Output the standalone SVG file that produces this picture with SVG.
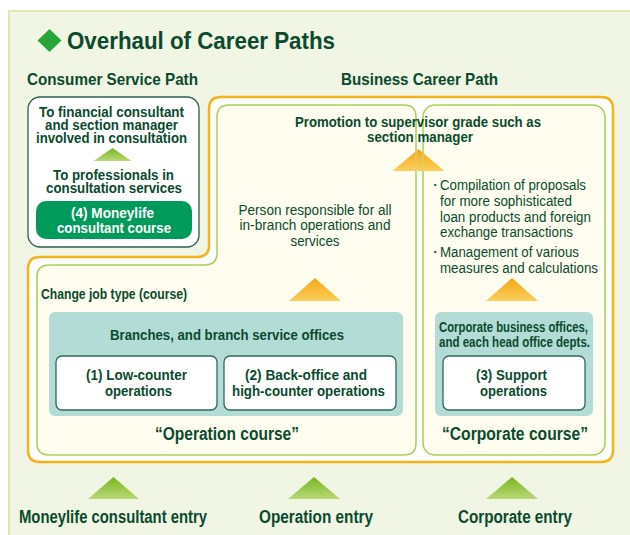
<svg xmlns="http://www.w3.org/2000/svg" width="630" height="535" viewBox="0 0 630 535">
  <defs>
    <linearGradient id="gradOrange" x1="0" y1="0" x2="0" y2="1">
      <stop offset="0" stop-color="#f5a617"/>
      <stop offset="1" stop-color="#fbcf5a"/>
    </linearGradient>
    <linearGradient id="gradGreen" x1="0" y1="0" x2="0" y2="1">
      <stop offset="0" stop-color="#78b51f"/>
      <stop offset="1" stop-color="#b9d977"/>
    </linearGradient>
  </defs>
  <style>
    text { font-family: "Liberation Sans", Arial, sans-serif; fill: #0b4a2e; }
    .b { font-weight: bold; }
    .r { font-weight: normal; }
    .c { text-anchor: middle; }
    .w { fill: #ffffff; }
    .cream { fill: #fefdef; stroke: #a8cf55; stroke-width: 1.5; }
    .teal { fill: #b2dcd5; }
    .card { fill: #ffffff; stroke: #2f6a55; stroke-width: 1.3; }
    .upO { fill: url(#gradOrange); }
    .upG { fill: url(#gradGreen); }
  </style>

  <!-- page panel -->
  <rect x="0" y="0" width="630" height="535" fill="#ffffff"/>
  <rect x="9" y="11" width="625" height="530" fill="#f0f5e4" stroke="#dbe8b3" stroke-width="2"/>

  <!-- title -->
  <g id="title">
    <polygon points="49.5,29 61.5,40.5 49.5,52 37.5,40.5" fill="#27a538"/>
    <text class="b" x="67" y="49" font-size="23" textLength="268" lengthAdjust="spacingAndGlyphs">Overhaul of Career Paths</text>
  </g>

  <text class="b" x="27" y="85" font-size="17" textLength="171" lengthAdjust="spacingAndGlyphs">Consumer Service Path</text>
  <text class="b" x="341" y="85" font-size="17" textLength="157" lengthAdjust="spacingAndGlyphs">Business Career Path</text>

  <!-- business career path frame -->
  <g id="business-path">
    <path d="M 40 257 L 197 257 Q 209 257 209 245 L 209 109 Q 209 97 221 97 L 601 97 Q 613 97 613 109 L 613 450 Q 613 462 601 462 L 40 462 Q 28 462 28 450 L 28 269 Q 28 257 40 257 Z" fill="#ffffff" stroke="#f5b21b" stroke-width="2.5"/>
  </g>

  <!-- operation course area -->
  <g id="operation-course">
    <path class="cream" d="M 49 265 L 205 265 Q 217 265 217 253 L 217 117 Q 217 105 229 105 L 404 105 Q 416 105 416 117 L 416 443 Q 416 455 404 455 L 49 455 Q 37 455 37 443 L 37 277 Q 37 265 49 265 Z"/>
    <text class="r c" x="315" y="215" font-size="14" textLength="153" lengthAdjust="spacingAndGlyphs">Person responsible for all</text>
    <text class="r c" x="315" y="230" font-size="14" textLength="151" lengthAdjust="spacingAndGlyphs">in-branch operations and</text>
    <text class="r c" x="315" y="246" font-size="14" textLength="49" lengthAdjust="spacingAndGlyphs">services</text>
    <text class="b" x="41" y="299" font-size="14" textLength="146" lengthAdjust="spacingAndGlyphs">Change job type (course)</text>
    <rect class="teal" x="49" y="312" width="354" height="104" rx="6"/>
    <text class="b c" x="227" y="340" font-size="15" textLength="234" lengthAdjust="spacingAndGlyphs">Branches, and branch service offices</text>
    <text class="b c" x="227" y="440" font-size="18" textLength="144" lengthAdjust="spacingAndGlyphs">“Operation course”</text>
  </g>

  <g id="low-counter">
    <rect class="card" x="56" y="356" width="161" height="54" rx="6"/>
    <text class="b c" x="136.5" y="380" font-size="15" textLength="101" lengthAdjust="spacingAndGlyphs">(1) Low-counter</text>
    <text class="b c" x="138.5" y="396" font-size="15" textLength="67" lengthAdjust="spacingAndGlyphs">operations</text>
  </g>

  <g id="back-office">
    <rect class="card" x="224" y="356" width="172" height="54" rx="6"/>
    <text class="b c" x="306" y="380" font-size="15" textLength="122" lengthAdjust="spacingAndGlyphs">(2) Back-office and</text>
    <text class="b c" x="308.5" y="396" font-size="15" textLength="153" lengthAdjust="spacingAndGlyphs">high-counter operations</text>
  </g>

  <!-- corporate course area -->
  <g id="corporate-course">
    <rect class="cream" x="423" y="105" width="182" height="350" rx="12"/>
    <text class="r" x="428" y="190" font-size="14" font-family="'Noto Sans CJK JP', sans-serif">・</text>
    <text class="r" x="440" y="190" font-size="14" textLength="146" lengthAdjust="spacingAndGlyphs">Compilation of proposals</text>
    <text class="r" x="440" y="206" font-size="14" textLength="132" lengthAdjust="spacingAndGlyphs">for more sophisticated</text>
    <text class="r" x="440" y="222" font-size="14" textLength="151" lengthAdjust="spacingAndGlyphs">loan products and foreign</text>
    <text class="r" x="440" y="237" font-size="14" textLength="133" lengthAdjust="spacingAndGlyphs">exchange transactions</text>
    <text class="r" x="428" y="257" font-size="14" font-family="'Noto Sans CJK JP', sans-serif">・</text>
    <text class="r" x="440" y="257" font-size="14" textLength="139" lengthAdjust="spacingAndGlyphs">Management of various</text>
    <text class="r" x="440" y="273" font-size="14" textLength="158" lengthAdjust="spacingAndGlyphs">measures and calculations</text>
    <rect class="teal" x="435" y="312" width="158" height="104" rx="6"/>
    <text class="b c" x="513.5" y="332" font-size="14" textLength="149" lengthAdjust="spacingAndGlyphs">Corporate business offices,</text>
    <text class="b c" x="514.5" y="347" font-size="14" textLength="151" lengthAdjust="spacingAndGlyphs">and each head office depts.</text>
    <text class="b c" x="515" y="440" font-size="18" textLength="146" lengthAdjust="spacingAndGlyphs">“Corporate course”</text>
  </g>

  <g id="support">
    <rect class="card" x="443" y="356" width="142" height="54" rx="6"/>
    <text class="b c" x="511.5" y="380" font-size="15" textLength="71" lengthAdjust="spacingAndGlyphs">(3) Support</text>
    <text class="b c" x="513.5" y="396" font-size="15" textLength="67" lengthAdjust="spacingAndGlyphs">operations</text>
  </g>

  <!-- consumer service path -->
  <g id="consumer-path">
    <rect x="28" y="97" width="171" height="150" rx="12" fill="#ffffff" stroke="#2c5f4c" stroke-width="1.3"/>
    <text class="b c" x="111.5" y="117" font-size="14" textLength="145" lengthAdjust="spacingAndGlyphs">To financial consultant</text>
    <text class="b c" x="111.5" y="130" font-size="14" textLength="133" lengthAdjust="spacingAndGlyphs">and section manager</text>
    <text class="b c" x="111.5" y="143" font-size="14" textLength="151" lengthAdjust="spacingAndGlyphs">involved in consultation</text>
    <text class="b c" x="113.5" y="180" font-size="14" textLength="121" lengthAdjust="spacingAndGlyphs">To professionals in</text>
    <text class="b c" x="114" y="193" font-size="14" textLength="136" lengthAdjust="spacingAndGlyphs">consultation services</text>
  </g>

  <g id="moneylife-course">
    <rect x="36" y="201" width="156" height="38" rx="10" fill="#009a5b"/>
    <text class="b c w" x="112.5" y="218" font-size="15" textLength="83" lengthAdjust="spacingAndGlyphs">(4) Moneylife</text>
    <text class="b c w" x="114" y="233" font-size="15" textLength="114" lengthAdjust="spacingAndGlyphs">consultant course</text>
  </g>

  <!-- promotion target -->
  <g id="promotion">
    <text class="b c" x="418" y="127" font-size="14.5" textLength="246" lengthAdjust="spacingAndGlyphs">Promotion to supervisor grade such as</text>
    <text class="b c" x="420" y="142" font-size="14.5" textLength="106" lengthAdjust="spacingAndGlyphs">section manager</text>
  </g>

  <!-- entry labels -->
  <g id="entry-moneylife">
    <text class="b c" x="113" y="523" font-size="18" textLength="188" lengthAdjust="spacingAndGlyphs">Moneylife consultant entry</text>
  </g>
  <g id="entry-operation">
    <text class="b c" x="316" y="523" font-size="18" textLength="114" lengthAdjust="spacingAndGlyphs">Operation entry</text>
  </g>
  <g id="entry-corporate">
    <text class="b c" x="515" y="523" font-size="18" textLength="114" lengthAdjust="spacingAndGlyphs">Corporate entry</text>
  </g>

  <!-- upward arrows -->
  <g id="connectors">
    <polygon class="upG" points="112.5,148 131.5,161 93.5,161"/>
    <polygon class="upO" points="418.5,149 444.5,171 392.5,171"/>
    <line x1="416" y1="151" x2="416" y2="171" stroke="#c9dc7a" stroke-width="1.2" opacity="0.8"/>
    <line x1="423" y1="151" x2="423" y2="171" stroke="#c9dc7a" stroke-width="1.2" opacity="0.8"/>
    <polygon class="upO" points="315,278 341,301 289,301"/>
    <polygon class="upO" points="512,278 538,301 486,301"/>
    <polygon class="upG" points="113.5,477 139,499 88,499"/>
    <polygon class="upG" points="314,477 340,499 288,499"/>
    <polygon class="upG" points="512,477 538,499 486,499"/>
  </g>
</svg>
